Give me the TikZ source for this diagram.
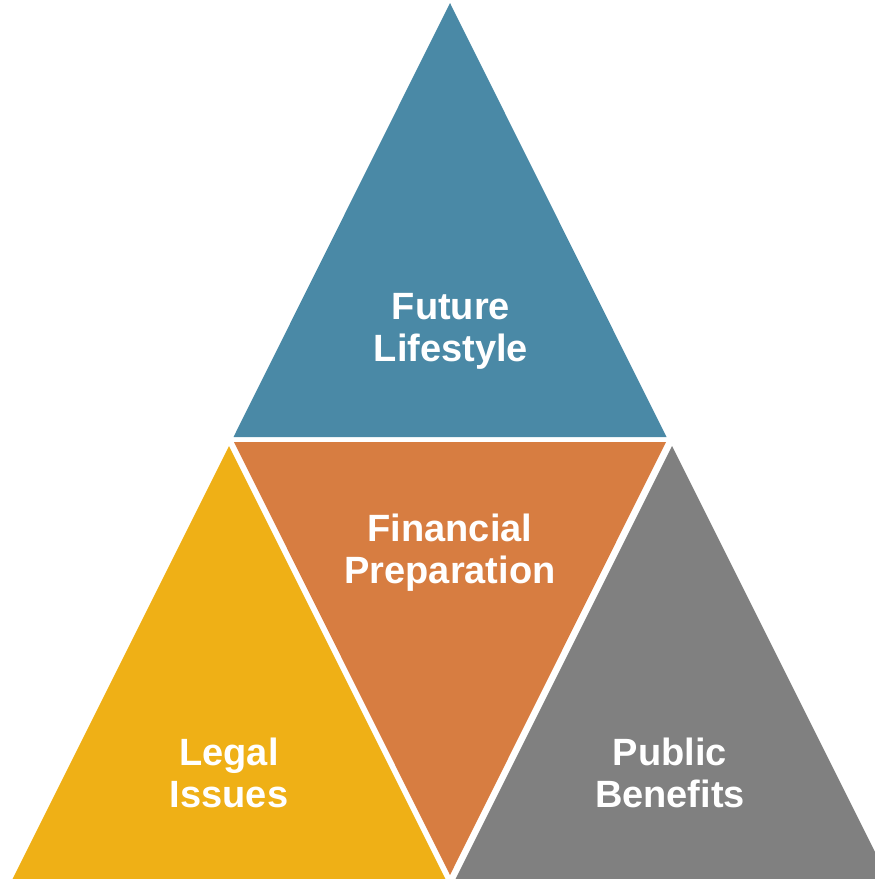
\documentclass[tikz,border=0pt]{standalone}
\usepackage{fontspec}
\setmainfont{Liberation Sans}
\definecolor{tblue}{RGB}{74,137,166}
\definecolor{torange}{RGB}{215,125,65}
\definecolor{tyellow}{RGB}{239,176,22}
\definecolor{tgray}{RGB}{128,128,128}
\begin{document}
\begin{tikzpicture}[x=1pt,y=-1pt,
  label/.style={text=white,font=\fontsize{38}{42}\selectfont\bfseries,align=center,inner sep=0pt}]
\useasboundingbox (0,0) rectangle (875,879);
\begin{scope}
\clip (0,0) rectangle (875,879);
% four triangles separated by thin white gaps
\fill[tblue]   (450,3) -- (666.5,437) -- (233.5,437) -- cycle;
\fill[torange] (234,442) -- (666,442) -- (450,875) -- cycle;
\fill[tyellow] (229,446) -- (446,880) -- (12,880) -- cycle;
\fill[tgray]   (672,446) -- (889,880) -- (455,880) -- cycle;
\end{scope}
\node[label] (future)    at (451,331) {Future\\Lifestyle};
\node[label] (financial) at (450,553) {Financial\\Preparation};
\node[label] (legal)     at (229,773) {Legal\\Issues};
\node[label] (public)    at (670,773) {Public\\Benefits};
\end{tikzpicture}
\end{document}
